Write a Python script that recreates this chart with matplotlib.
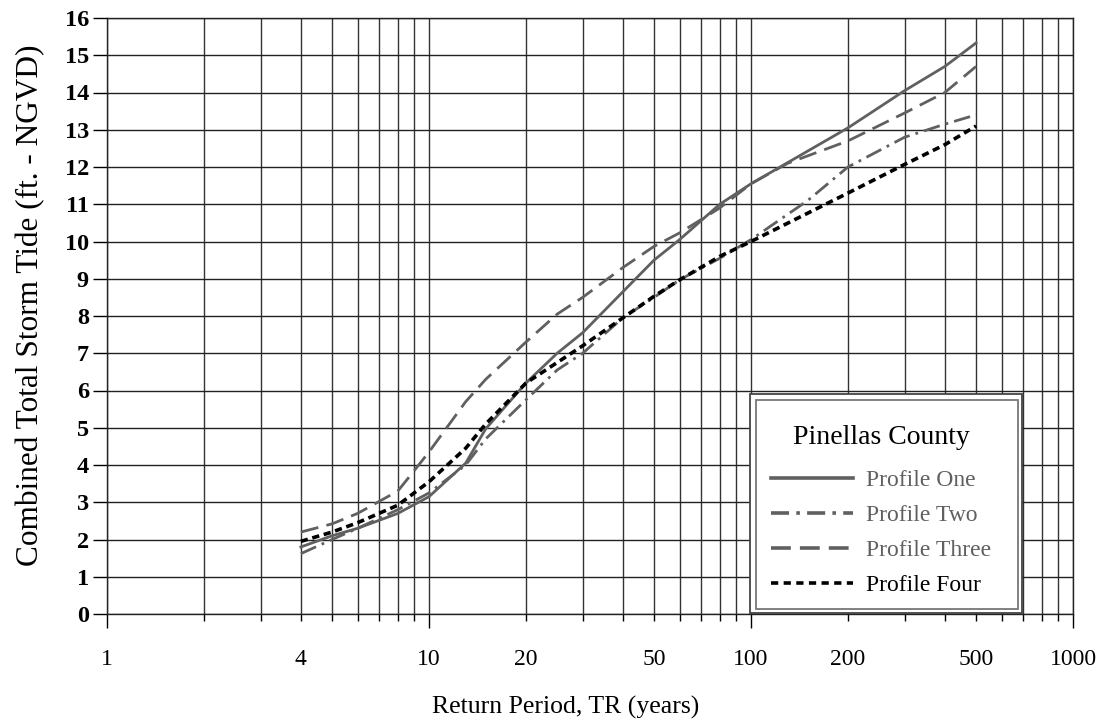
import matplotlib
matplotlib.use("Agg")
import matplotlib.pyplot as plt
import numpy as np
from matplotlib.patches import Rectangle
from matplotlib.lines import Line2D
from matplotlib.ticker import FixedLocator, FuncFormatter, LogLocator

plt.rcParams["font.family"] = ["Liberation Serif", "DejaVu Serif"]

# Return period (years) and combined storm tide (ft NGVD)
tr_one = [4, 5, 6, 8, 10, 13, 15, 20, 25, 30, 40, 50, 60, 80, 100, 200, 300, 400, 500]
tide_one = [1.8, 2.1, 2.3, 2.7, 3.15, 4.05, 4.97, 6.2, 7.0, 7.55, 8.65, 9.5, 10.05, 11.0, 11.55, 13.05, 14.05, 14.7, 15.33]

tr_two = [4, 5, 6, 8, 10, 13, 15, 20, 25, 30, 40, 50, 60, 80, 100, 150, 200, 300, 400, 500]
tide_two = [1.62, 2.0, 2.3, 2.8, 3.25, 4.0, 4.7, 5.75, 6.55, 7.0, 7.95, 8.5, 8.97, 9.55, 10.05, 11.1, 12.0, 12.8, 13.15, 13.4]

tr_three = [4, 5, 6, 8, 9, 10, 13, 15, 20, 25, 30, 40, 50, 60, 80, 100, 130, 200, 300, 400, 500]
tide_three = [2.2, 2.42, 2.7, 3.3, 3.85, 4.35, 5.7, 6.3, 7.3, 8.05, 8.5, 9.3, 9.87, 10.23, 10.9, 11.55, 12.1, 12.7, 13.45, 14.0, 14.7]

tr_four = [4, 5, 6, 8, 10, 13, 15, 20, 25, 30, 40, 50, 60, 80, 100, 200, 300, 400, 500]
tide_four = [1.95, 2.2, 2.45, 2.92, 3.55, 4.45, 5.1, 6.2, 6.75, 7.2, 7.95, 8.53, 8.97, 9.6, 10.0, 11.3, 12.07, 12.6, 13.1]

labels = ["Profile One", "Profile Two", "Profile Three", "Profile Four"]
minor_labels = [4, 20, 50, 200, 500]

fig = plt.figure(figsize=(11.07, 7.25), dpi=100)
ax = fig.add_axes([107 / 1107, 111 / 725, 966 / 1107, 596 / 725])

gray = "#606060"
ax.plot(tr_one, tide_one, color=gray, lw=2.0, solid_joinstyle="round", zorder=3)
ax.plot(tr_two, tide_two, color=gray, lw=2.0, dashes=(6, 2.2, 1, 2.2), zorder=3)
ax.plot(tr_three, tide_three, color=gray, lw=2.0, dashes=(6.5, 3), zorder=3)
ax.plot(tr_four, tide_four, color="black", lw=2.6, dashes=(2.0, 1.3), zorder=3)

ax.set_xscale("log")
ax.set_xlim(1, 1000)
ax.set_ylim(0, 16)

# x ticks: long at decades, short at the in-between values
ax.xaxis.set_major_locator(FixedLocator([1, 10, 100, 1000]))
ax.xaxis.set_major_formatter(FuncFormatter(lambda v, p: f"{v:g}"))
ax.xaxis.set_minor_locator(LogLocator(base=10, subs=np.arange(2, 10)))
ax.xaxis.set_minor_formatter(
    FuncFormatter(lambda v, p: f"{v:g}" if int(round(v)) in minor_labels else ""))
ax.tick_params(axis="x", which="major", direction="out", length=10, width=1,
               pad=15, labelsize=17)
ax.tick_params(axis="x", which="minor", direction="out", length=5, width=1,
               pad=20, labelsize=17)

ax.set_yticks(range(0, 17))
ax.tick_params(axis="y", direction="out", length=10, width=1, pad=3, labelsize=17.5)
for t in ax.get_yticklabels():
    t.set_fontweight("bold")

ax.grid(True, which="both", axis="x", color="#333333", lw=1.0)
ax.grid(True, which="major", axis="y", color="#222222", lw=1.0)
ax.set_axisbelow(True)
for s in ax.spines.values():
    s.set_color("#222222")
    s.set_linewidth(1.0)

ax.set_xlabel("Return Period, TR (years)", fontsize=18.5)
ax.xaxis.set_label_coords((566 - 107) / 966, -(707 - 614) / 596)
ax.set_ylabel("Combined Total Storm Tide (ft. - NGVD)", fontsize=22.5)
ax.yaxis.set_label_coords(-(107 - 31) / 966, (614 - 305) / 596)
ax.xaxis.label.set_va("center")
ax.yaxis.label.set_va("center")

# legend box: double frame, white inside
def px_to_ax(x, y):
    return (x - 107) / 966, (614 - y) / 596

ox0, oy0 = px_to_ax(750, 613)
ox1, oy1 = px_to_ax(1022, 394)
ix0, iy0 = px_to_ax(756, 609)
ix1, iy1 = px_to_ax(1018, 400)
ax.add_patch(Rectangle((ox0, oy0), ox1 - ox0, oy1 - oy0, transform=ax.transAxes,
                       facecolor="white", edgecolor="#444444", lw=1.3, zorder=5))
ax.add_patch(Rectangle((ix0, iy0), ix1 - ix0, iy1 - iy0, transform=ax.transAxes,
                       facecolor="white", edgecolor="#777777", lw=1.3, zorder=5))

handles = [
    Line2D([], [], color=gray, lw=2.6),
    Line2D([], [], color=gray, lw=2.6, dashes=(5, 2, 1, 2)),
    Line2D([], [], color=gray, lw=2.6, dashes=(5.5, 2.5)),
    Line2D([], [], color="black", lw=2.6, dashes=(2, 1.5)),
]
cx, ty = px_to_ax(881, 413)
leg = ax.legend(handles, labels, title="Pinellas County", loc="upper center",
                bbox_to_anchor=(cx, ty), frameon=False, fontsize=17,
                title_fontsize=20, handlelength=3.5, handletextpad=0.55,
                labelspacing=0.58, borderpad=0)
leg.set_zorder(6)
leg.get_title().set_color("black")
leg._legend_box.sep = 14
for txt, c in zip(leg.get_texts(), [gray, gray, gray, "black"]):
    txt.set_color(c)

fig.savefig("out.png", dpi=100)
